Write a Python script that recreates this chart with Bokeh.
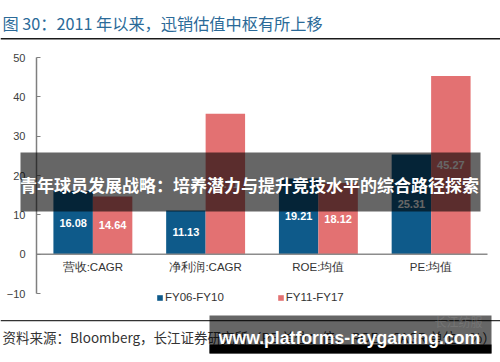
from bokeh.plotting import figure
from bokeh.models import (ColumnDataSource, BoxAnnotation, Label, Legend, LegendItem,
                          FixedTicker, Range1d)
from bokeh.core.properties import value
from bokeh.embed import file_html
from bokeh.resources import INLINE
import numpy as np

categories = ["营收:CAGR", "净利润:CAGR", "ROE:均值", "PE:均值"]
fy06_fy10 = [16.08, 11.13, 19.21, 25.31]
fy11_fy17 = [14.64, 35.71, 18.12, 45.27]
series_names = ["FY06-FY10", "FY11-FY17"]
y_ticks = [-10, 0, 10, 20, 30, 40, 50]

title_text = "图 30：2011 年以来，迅销估值中枢有所上移"
source_text = "资料来源：Bloomberg，长江证券研究所（PE 单位：倍； ROE、CAGR 单位：%）"
banner_text = "青年球员发展战略：培养潜力与提升竞技水平的综合路径探索"
url_text = "www.platforms-raygaming.com"
watermark_text = "长江纺服"

BLUE = "#0e5a8a"
PINK = "#e37172"
CJK = "Noto Sans CJK SC"
LAT = "Liberation Sans"

# canvas layout (pixels)
W, H = 500, 362
PLOT_L, PLOT_R, PLOT_T, PLOT_B = 36, 487, 57, 293
n = len(categories)
ux = (PLOT_R - PLOT_L) / n
uy = (PLOT_B - PLOT_T) / (y_ticks[-1] - y_ticks[0])
x_range = Range1d(-PLOT_L / ux, n + (W - PLOT_R) / ux)
y_range = Range1d(y_ticks[0] - (H - PLOT_B) / uy, y_ticks[-1] + PLOT_T / uy)

p = figure(width=W, height=H, output_backend="svg", toolbar_location=None,
           x_range=x_range, y_range=y_range,
           min_border_left=0, min_border_right=0, min_border_top=0, min_border_bottom=0)
p.title.visible = False
p.outline_line_color = None
p.xgrid.visible = False
p.ygrid.visible = False
p.xaxis.visible = False

ya = p.yaxis[0]
ya.fixed_location = 0
ya.bounds = (y_ticks[0], y_ticks[-1])
ya.ticker = FixedTicker(ticks=y_ticks)
ya.axis_line_color = "#7f7f7f"
ya.axis_line_width = 1.5
ya.major_tick_in = 4
ya.major_tick_out = 0
ya.major_tick_line_color = "#7f7f7f"
ya.minor_tick_line_color = None
ya.major_label_text_font = LAT
ya.major_label_text_font_size = "11px"
ya.major_label_text_color = "#404040"
ya.major_label_standoff = 11

xc = np.arange(n) + 0.5
bw = 0.35
src = ColumnDataSource(dict(
    x1=xc - bw / 2, x2=xc + bw / 2, xc=xc, cat=categories,
    a=fy06_fy10, b=fy11_fy17,
    ah=[v / 2 for v in fy06_fy10], bh=[v / 2 for v in fy11_fy17],
    at=[f"{v:.2f}" for v in fy06_fy10], bt=[f"{v:.2f}" for v in fy11_fy17],
    zero=[0] * n))

r1 = p.vbar(x="x1", top="a", bottom=0, width=bw, source=src, fill_color=BLUE, line_color=None)
r2 = p.vbar(x="x2", top="b", bottom=0, width=bw, source=src, fill_color=PINK, line_color=None)

# zero baseline across the category area
p.segment(x0=[0], y0=[0], x1=[n], y1=[0], line_color="#8c8c8c", line_width=1.5)

p.text(x="x1", y="ah", text="at", source=src, text_color="white", text_font=value(LAT),
       text_font_size="11px", text_font_style="bold", text_align="center", text_baseline="middle")
p.text(x="x2", y="bh", text="bt", source=src, text_color="white", text_font=value(LAT),
       text_font_size="11px", text_font_style="bold", text_align="center", text_baseline="middle")
p.text(x="xc", y="zero", text="cat", source=src, y_offset=13, text_color="#333333",
       text_font=value(LAT), text_font_size="11.5px", text_align="center", text_baseline="middle")

legend = Legend(items=[LegendItem(label=series_names[0], renderers=[r1]),
                       LegendItem(label=series_names[1], renderers=[r2])],
                orientation="horizontal", location=(156, H - 297 - 7), padding=0, margin=0,
                spacing=53, glyph_width=7, glyph_height=7, label_standoff=2, label_height=14,
                label_text_font=LAT, label_text_font_size="11.5px", label_text_color="#333333",
                border_line_alpha=0, background_fill_alpha=0)
p.add_layout(legend)


def box(l, r, t, b, color, alpha):
    # page pixel coordinates (y from top) -> frame screen units (y from bottom)
    p.add_layout(BoxAnnotation(left=l, right=r, top=H - t, bottom=H - b,
                               left_units="screen", right_units="screen",
                               top_units="screen", bottom_units="screen",
                               fill_color=color, fill_alpha=alpha, line_color=None,
                               line_alpha=0))


def label(x, y, text, font, size, color, style="normal", align="left", alpha=1.0):
    p.add_layout(Label(x=x, y=H - y, x_units="screen", y_units="screen", text=text,
                       text_font=font, text_font_size=size, text_color=color,
                       text_font_style=style, text_align=align, text_baseline="middle",
                       text_alpha=alpha))


# title, rules, source text
label(2, 22, title_text, CJK, "16.2px", "#2b6a98")
box(0, W, 37.5, 39, "#1a1a1a", 1)
box(0, W, 319.5, 320.7, "#333333", 1)
label(2, 336, source_text, CJK, "13.5px", "#333333")

# overlay banners
box(20, 480, 152, 211, "black", 0.6)
label(249, 184, banner_text, CJK, "17px", "white", "bold", "center")
box(209, 491, 315, 353, "black", 0.6)
box(209, 491, 344, 353, "black", 1)
label(458, 321, watermark_text, CJK, "12px", "#8a8a8a", "normal", "center", 0.45)
label(349, 337, url_text, LAT, "17.6px", "white", "bold", "center")

open("out.html", "w").write(file_html(p, INLINE))
